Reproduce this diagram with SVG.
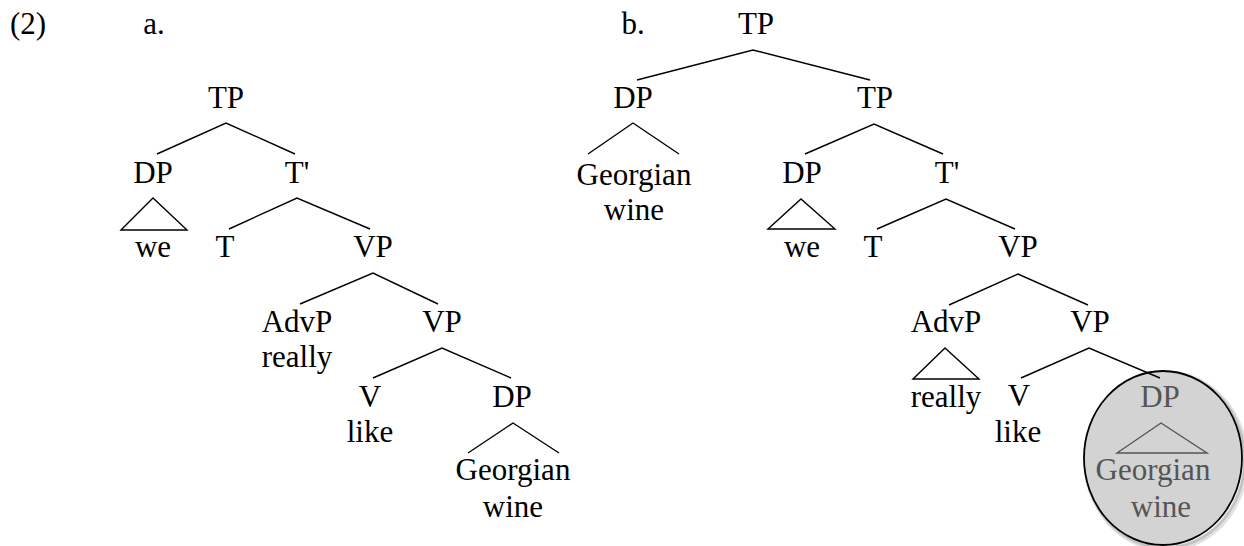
<svg xmlns="http://www.w3.org/2000/svg" width="1244" height="546" viewBox="0 0 1244 546">
  <style>
    text { font-size: 31px; fill: #000; text-anchor: middle; }
    .edge { stroke: #000; stroke-width: 1.4; fill: none; }
    .faded-tri { stroke: #555; stroke-width: 1.4; fill: none; }
  </style>
  <rect width="1244" height="546" fill="#fff"/>

  <text x="28" y="34" font-family="Liberation Serif">(2)</text>
  <text x="154" y="34" font-family="Liberation Serif">a.</text>
  <text x="633" y="34" font-family="Liberation Serif">b.</text>

  <g id="highlight">
    <ellipse cx="1166" cy="461" rx="80" ry="88" fill="none" stroke="#888" stroke-width="5" opacity="0.25"/>
    <ellipse cx="1165" cy="460" rx="79.5" ry="87.5" fill="none" stroke="#888" stroke-width="3" opacity="0.35"/>
    <ellipse cx="1163" cy="458" rx="79" ry="87" fill="#d3d3d3" stroke="#000" stroke-width="1.8"/>
  </g>

  <g id="connectors">
    <path class="edge" d="M157 154 L226 123 L295 154"/>
    <path class="edge" d="M229 229 L297 198 L370 229"/>
    <path class="edge" d="M300 304 L373 273 L438 304"/>
    <path class="edge" d="M373 378 L442 348 L511 378"/>
    <path class="edge" d="M468 453 L513 423 L559 453"/>
    <path class="edge" d="M637 80 L753 50 L870 80"/>
    <path class="edge" d="M588 154 L633 123 L679 154"/>
    <path class="edge" d="M805 154 L874 124 L943 154"/>
    <path class="edge" d="M877 229 L946 199 L1015 229"/>
    <path class="edge" d="M949 305 L1018 274 L1088 305"/>
    <path class="edge" d="M1021 378 L1089 348 L1160 378"/>
    <path class="edge" d="M121 230 L153 198 L187 230 Z"/>
    <path class="edge" d="M768 229 L801 199 L835 229 Z"/>
    <path class="edge" d="M913 379 L945 348 L979 379 Z"/>
    <path class="faded-tri" d="M1117 453 L1161 423 L1207 453 Z"/>
  </g>

  <g id="tree-a">
    <text x="226" y="108" font-family="Liberation Serif">TP</text>
    <text x="153" y="183" font-family="Liberation Serif">DP</text>
    <text x="153" y="257" font-family="Liberation Serif">we</text>
    <text x="297" y="183" font-family="Liberation Serif">T'</text>
    <text x="225" y="257" font-family="Liberation Serif">T</text>
    <text x="373" y="257" font-family="Liberation Serif">VP</text>
    <text x="297" y="332" font-family="Liberation Serif">AdvP</text>
    <text x="297" y="367" font-family="Liberation Serif">really</text>
    <text x="442" y="332" font-family="Liberation Serif">VP</text>
    <text x="370" y="407" font-family="Liberation Serif">V</text>
    <text x="370" y="442" font-family="Liberation Serif">like</text>
    <text x="512" y="407" font-family="Liberation Serif">DP</text>
    <text x="513" y="480" font-family="Liberation Serif">Georgian</text>
    <text x="513" y="517" font-family="Liberation Serif">wine</text>
  </g>

  <g id="tree-b">
    <text x="756" y="34" font-family="Liberation Serif">TP</text>
    <text x="633" y="108" font-family="Liberation Serif">DP</text>
    <text x="634" y="185" font-family="Liberation Serif">Georgian</text>
    <text x="634" y="220" font-family="Liberation Serif">wine</text>
    <text x="875" y="108" font-family="Liberation Serif">TP</text>
    <text x="802" y="183" font-family="Liberation Serif">DP</text>
    <text x="802" y="257" font-family="Liberation Serif">we</text>
    <text x="947" y="183" font-family="Liberation Serif">T'</text>
    <text x="873" y="257" font-family="Liberation Serif">T</text>
    <text x="1018" y="257" font-family="Liberation Serif">VP</text>
    <text x="946" y="332" font-family="Liberation Serif">AdvP</text>
    <text x="946" y="407" font-family="Liberation Serif">really</text>
    <text x="1090" y="332" font-family="Liberation Serif">VP</text>
    <text x="1019" y="406" font-family="Liberation Serif">V</text>
    <text x="1018" y="442" font-family="Liberation Serif">like</text>
    <text x="1160" y="407" font-family="Liberation Serif" fill="#555" style="fill:#555">DP</text>
    <text x="1153" y="480" font-family="Liberation Serif" style="fill:#555">Georgian</text>
    <text x="1161" y="517" font-family="Liberation Serif" style="fill:#555">wine</text>
  </g>
</svg>
